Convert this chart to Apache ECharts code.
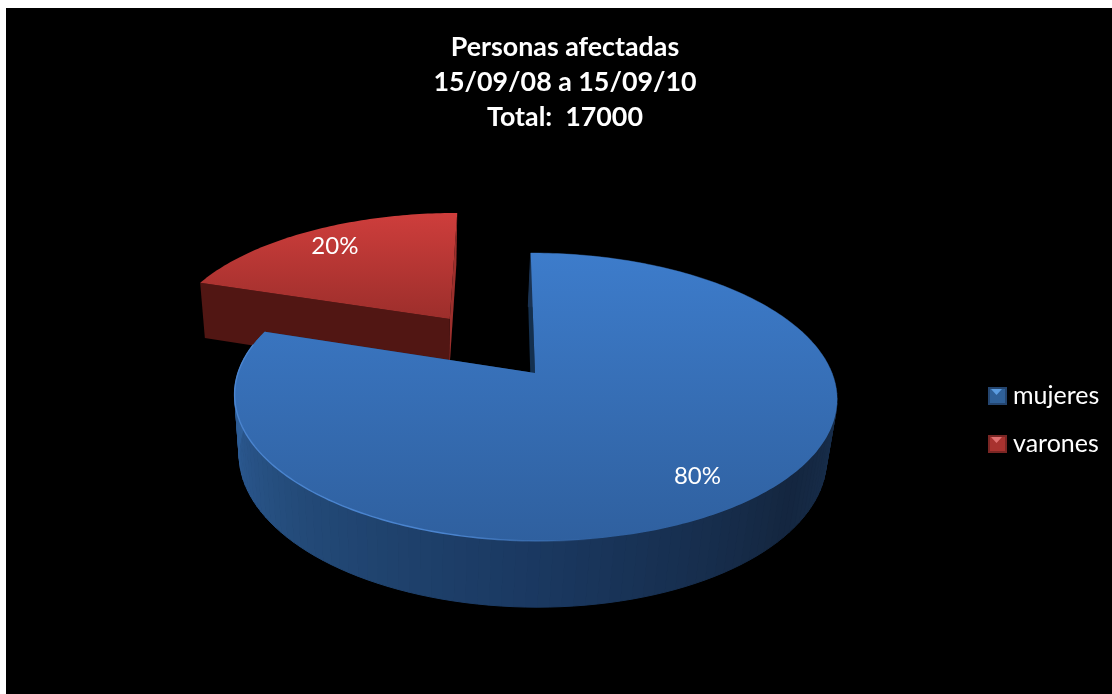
<!DOCTYPE html>
<html><head><meta charset="utf-8">
<script src="https://cdn.jsdelivr.net/npm/echarts@6/dist/echarts.min.js"></script>
<style>html,body{margin:0;padding:0;background:#fff}#c{width:1112px;height:694px}</style>
</head><body><div id="c"></div>
<script>
const categories = ['mujeres', 'varones'];
const values = [80, 20];
const titleLines = ['Personas afectadas', '15/09/08 a 15/09/10', 'Total:  17000'];

const total = values.reduce((a, b) => a + b, 0);
// perspective model of the tilted pie
const P = {x0: 535, y0: 373, bx: 297, by: 140, skew: 5, k: 1 / 6, depth: 61, dw: 0.025, shift: 3, explode: 0.51, labelR: 0.81};
function project(u, v, low) {
  const w = 1 - P.k * v + (low ? P.dw : 0);
  return [P.x0 + (P.bx * u + P.skew * v - (low ? P.shift : 0)) / w,
          P.y0 + (P.by * v + (low ? P.depth : 0)) / w];
}
function hex(c) { return [1, 3, 5].map(i => parseInt(c.substr(i, 2), 16)); }
const sideStops = [[90, '#1a3353'], [130, '#14263f'], [180, '#1a3860'], [225, '#234a78'], [270, '#2f5f9a'], [290, '#33659f']];
function sideColor(deg) {
  for (let i = 0; i < sideStops.length - 1; i++) {
    const a = sideStops[i], b = sideStops[i + 1];
    if (deg <= b[0]) {
      const t = Math.max(0, (deg - a[0]) / (b[0] - a[0]));
      const ca = hex(a[1]), cb = hex(b[1]);
      return 'rgb(' + ca.map((x, j) => Math.round(x + (cb[j] - x) * t)).join(',') + ')';
    }
  }
  return sideStops[sideStops.length - 1][1];
}
const LG = (y1, y2, c1, c2) => new echarts.graphic.LinearGradient(0, y1, 0, y2, [{offset: 0, color: c1}, {offset: 1, color: c2}], true);
const rimFade = new echarts.graphic.LinearGradient(240, 0, 600, 0, [{offset: 0, color: '#4a84cf'}, {offset: 0.6, color: '#4a84cf'}, {offset: 1, color: 'rgba(74,132,207,0)'}], true);
const look = {
  mujeres: {top: LG(253, 541, '#3d7ccb', '#2f609f'), wall: '#14304f', wall2: '#1a3860', rim: rimFade},
  varones: {top: LG(211, 320, '#cf3e3c', '#9c2e2b'), wall: '#511613', wall2: '#9c2f2c', rim: null}
};

function sliceChildren(idx) {
  let start = 0;
  for (let i = 0; i < idx; i++) start += values[i];
  const a0 = start / total * 360, a1 = (start + values[idx]) / total * 360;
  const mid = (a0 + a1) / 2 * Math.PI / 180;
  const exploded = idx === 1;
  const ou = exploded ? Math.sin(mid) * P.explode : 0, ov = exploded ? -Math.cos(mid) * P.explode : 0;
  const rim = (deg, low) => { const r = deg * Math.PI / 180; return project(ou + Math.sin(r), ov - Math.cos(r), low); };
  const apex = project(ou, ov, false), apexLow = project(ou, ov, true);
  const st = look[categories[idx]];
  const kids = [];
  const poly = (points, fill, stroke) => kids.push({type: 'polygon', shape: {points}, style: {fill, stroke: stroke || null, lineWidth: stroke ? 1 : 0}});
  // walls at both cuts
  poly([apex, rim(a1, false), rim(a1, true), apexLow], st.wall2);
  poly([apex, rim(a0, false), rim(a0, true), apexLow], st.wall);
  // outer side, in strips
  if (!exploded) {
    for (let d = a0; d < a1; d += 2) {
      const e = Math.min(d + 2, a1), c = sideColor((d + e) / 2);
      poly([rim(d, false), rim(e, false), rim(e, true), rim(d, true)], c, c);
    }
  }
  // top face
  const pts = [apex];
  for (let d = a0; d <= a1 + 0.001; d += 1) pts.push(rim(d, false));
  poly(pts, st.top);
  // highlight on the front-left rim
  if (st.rim) {
    const hl = [];
    for (let d = 165; d <= Math.min(a1, 282); d += 1) hl.push(rim(d, false));
    kids.push({type: 'polyline', shape: {points: hl}, style: {stroke: st.rim, lineWidth: 1.4, fill: null}});
  }
  // percentage label
  const lu = ou + Math.sin(mid) * P.labelR, lv = ov - Math.cos(mid) * P.labelR;
  const lp = project(lu, lv, false);
  kids.push({type: 'text', x: lp[0], y: lp[1], style: {
    text: Math.round(values[idx] / total * 100) + '%', fill: '#fff',
    font: '24px Lato, sans-serif', align: 'center', verticalAlign: 'middle'}});
  return kids;
}
function seriesFor(idx) {
  return {
    type: 'custom', name: categories[idx], coordinateSystem: 'none', silent: true, animation: false,
    z: idx === 0 ? 3 : 2,
    itemStyle: {color: idx === 0 ? '#2f6098' : '#a8322f', borderColor: idx === 0 ? '#24456f' : '#7a2624', borderWidth: 1},
    data: [values[idx]],
    renderItem: () => ({type: 'group', children: sliceChildren(idx)})
  };
}
const chart = echarts.init(document.getElementById('c'), null, {renderer: 'canvas'});
const tri = (x, y, c) => ({type: 'polygon', z: 10, silent: true, shape: {points: [[x + 3, y + 2], [x + 14, y + 2], [x + 8.5, y + 8]]}, style: {fill: c}});
chart.setOption({
  animation: false,
  backgroundColor: '#fff',
  title: {text: titleLines.join('\n'), left: 560, top: 25, textAlign: 'center',
    textStyle: {color: '#fff', fontFamily: 'Lato, sans-serif', fontWeight: 'bold', fontSize: 26.8, lineHeight: 35}},
  legend: {orient: 'vertical', left: 988, top: 382, padding: 0, itemWidth: 17, itemHeight: 16, itemGap: 20, icon: 'rect',
    data: categories, selectedMode: false,
    textStyle: {color: '#fff', fontFamily: 'Lato, sans-serif', fontSize: 25, lineHeight: 28, padding: [0, 0, 0, 2]}},
  graphic: [
    {type: 'rect', z: -1, silent: true, shape: {x: 6, y: 8, width: 1106, height: 686}, style: {fill: '#000'}},
    tri(988, 387, '#5b9ce0'), tri(988, 435, '#e07070')
  ],
  series: [seriesFor(1), seriesFor(0)]
});
</script></body></html>
